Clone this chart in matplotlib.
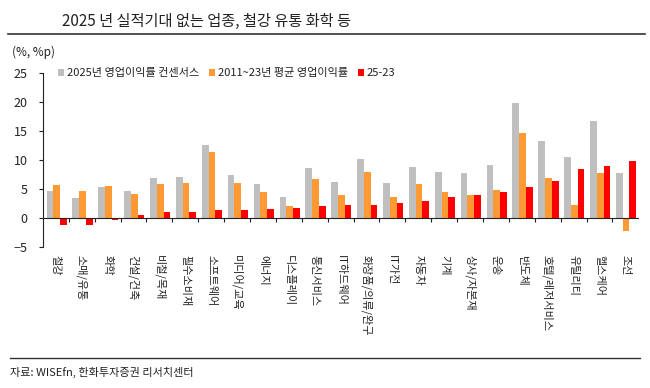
import matplotlib
matplotlib.use("Agg")
import matplotlib.pyplot as plt
from matplotlib.patches import Patch
from matplotlib.lines import Line2D
import numpy as np

plt.rcParams['font.family'] = ['Noto Sans CJK KR', 'DejaVu Sans']

categories = ["철강", "소매/유통", "화학", "건설/건축", "비철/목재", "필수소비재", "소프트웨어",
              "미디어/교육", "에너지", "디스플레이", "통신서비스", "IT하드웨어", "화장품/의류/완구",
              "IT가전", "자동차", "기계", "상사/자본재", "운송", "반도체", "호텔/레저서비스",
              "유틸리티", "헬스케어", "조선"]
consensus_2025 = [4.6, 3.4, 5.3, 4.7, 6.9, 7.1, 12.6, 7.4, 5.9, 3.7, 8.6, 6.2, 10.1,
                  6.0, 8.8, 7.9, 7.8, 9.2, 19.9, 13.2, 10.5, 16.8, 7.8]
avg_2011_23 = [5.7, 4.6, 5.6, 4.2, 5.9, 6.1, 11.4, 6.1, 4.4, 2.1, 6.8, 4.0, 7.9,
               3.6, 5.9, 4.4, 3.9, 4.8, 14.7, 6.9, 2.2, 7.8, -2.2]
diff_25_23 = [-1.2, -1.2, -0.3, 0.6, 1.0, 1.1, 1.4, 1.4, 1.6, 1.7, 2.0, 2.2, 2.3,
              2.5, 2.9, 3.6, 4.0, 4.5, 5.3, 6.4, 8.4, 9.0, 9.9]
series_names = ["2025년 영업이익률 컨센서스", "2011~23년 평균 영업이익률", "25-23"]
yticks = [-5, 0, 5, 10, 15, 20, 25]

colors = ["#BFBFBF", "#FF9933", "#FF0000"]

fig = plt.figure(figsize=(6.5, 3.88), dpi=100)
ax = fig.add_axes([0.066, 0.3634, 0.916, 0.4485])

x = np.arange(len(categories))
w = 0.26
for k, (vals, c) in enumerate(zip([consensus_2025, avg_2011_23, diff_25_23], colors)):
    ax.bar(x + (k - 1) * w + 0.03, vals, width=w, color=c, linewidth=0, zorder=2)

ax.set_xlim(-0.5, len(categories) - 0.5)
ax.set_ylim(-5, 25)
ax.set_yticks(yticks)
ax.tick_params(axis='y', direction='out', length=3, width=0.8, pad=8, labelsize=9,
               colors='#222222')
ax.spines['top'].set_visible(False)
ax.spines['right'].set_visible(False)
ax.spines['left'].set_color('#222222')
ax.spines['bottom'].set_position(('data', 0))
ax.spines['bottom'].set_color('#222222')
ax.set_xticks(np.arange(0.5, len(categories) - 0.5, 1.0))
ax.set_xticklabels([])
ax.tick_params(axis='x', direction='out', length=3, width=0.8, colors='#222222')

trans = ax.get_xaxis_transform()
for i, lab in enumerate(categories):
    ax.text(i, -0.045, lab, rotation=270, ha='center', va='top', fontsize=8,
            color='#222222', transform=trans)

handles = [Patch(facecolor=c, edgecolor='none') for c in colors]
ax.legend(handles, series_names, loc='center left', bbox_to_anchor=(0.008, 1.0),
          ncol=3, frameon=False, fontsize=8, handlelength=0.6, handleheight=0.6,
          handletextpad=0.2, columnspacing=0.9, labelcolor='#222222')

fig.text(0.095, 0.945, "2025 년 실적기대 없는 업종, 철강 유통 화학 등", fontsize=11,
         color='#222222', va='center', ha='left')
fig.add_artist(Line2D([0.012, 0.992], [0.912, 0.912], color='#333333', linewidth=1.2))
fig.text(0.018, 0.865, "(%, %p)", fontsize=8.5, color='#222222', va='center', ha='left')
fig.add_artist(Line2D([0.015, 0.985], [0.078, 0.078], color='#333333', linewidth=1.0))
fig.text(0.015, 0.04, "자료: WISEfn, 한화투자증권 리서치센터", fontsize=8, color='#222222',
         va='center', ha='left')

fig.savefig("out.png", dpi=100)
